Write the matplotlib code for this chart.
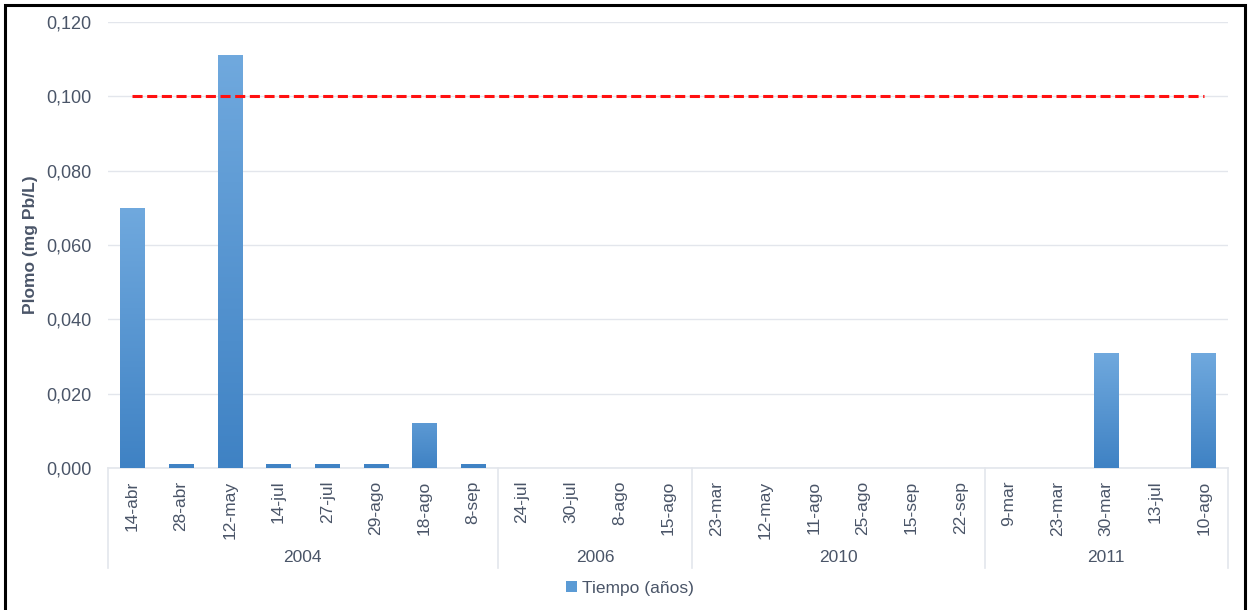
import numpy as np
import matplotlib.pyplot as plt
from matplotlib.patches import Rectangle
from matplotlib.colors import LinearSegmentedColormap

plt.rcParams['font.family'] = ['Liberation Sans', 'DejaVu Sans']

# datos
years = ['2004', '2006', '2010', '2011']
fechas = [
    ['14-abr', '28-abr', '12-may', '14-jul', '27-jul', '29-ago', '18-ago', '8-sep'],
    ['24-jul', '30-jul', '8-ago', '15-ago'],
    ['23-mar', '12-may', '11-ago', '25-ago', '15-sep', '22-sep'],
    ['9-mar', '23-mar', '30-mar', '13-jul', '10-ago'],
]
plomo = [
    0.070, 0.001, 0.111, 0.001, 0.001, 0.001, 0.012, 0.001,
    0.0, 0.0, 0.0, 0.0,
    0.0, 0.0, 0.0, 0.0, 0.0, 0.0,
    0.0, 0.0, 0.031, 0.0, 0.031,
]
limite = 0.100

labels = [f for grupo in fechas for f in grupo]
x = np.arange(len(labels))

text_color = '#4a5568'
grid_color = '#e3e6ec'

fig = plt.figure(figsize=(12.52, 6.1), dpi=100)
ax = fig.add_axes([108 / 1252, 1 - 468 / 610, 1120 / 1252, 446 / 610])

bars = ax.bar(x, plomo, width=0.5, color='#5b9bd5', label='Tiempo (años)', zorder=2)

# degradado en cada barra
cmap = LinearSegmentedColormap.from_list('g', ['#3f82c4', '#70a9de'])
grad = np.linspace(0, 1, 256).reshape(-1, 1)
for b in bars:
    h = b.get_height()
    if h <= 0:
        continue
    bx, bw = b.get_x(), b.get_width()
    im = ax.imshow(grad, cmap=cmap, aspect='auto', origin='lower',
                   extent=(bx, bx + bw, 0, max(h, 0.02)), zorder=3)
    im.set_clip_path(b)

# línea límite
ax.plot([x[0], x[-1]], [limite, limite], color='#ff1010', lw=2.2,
        linestyle=(0, (3.3, 1.5)), zorder=4)

ax.set_xlim(-0.5, len(labels) - 0.5)
ax.set_ylim(0, 0.12)
ax.set_yticks(np.arange(0, 0.121, 0.02))
ax.set_yticklabels([f'{v:.3f}'.replace('.', ',') for v in np.arange(0, 0.121, 0.02)],
                   fontsize=13, color=text_color)
ax.yaxis.grid(True, color=grid_color, lw=1)
ax.set_axisbelow(True)
ax.tick_params(axis='y', length=0, pad=12)

ax.set_xticks(x)
ax.set_xticklabels(labels, rotation=90, fontsize=12.5, color=text_color)
ax.tick_params(axis='x', length=0, pad=9)

for s in ['top', 'right', 'left']:
    ax.spines[s].set_visible(False)
ax.spines['bottom'].set_color(grid_color)
ax.spines['bottom'].set_linewidth(1.2)

ax.set_ylabel('Plomo (mg Pb/L)', fontsize=12.5, fontweight='bold', color=text_color)
ax.yaxis.set_label_coords(-70 / 1120, 0.5)

# separadores de grupos y años
trans = ax.get_xaxis_transform()
bordes = [-0.5]
for g in fechas:
    bordes.append(bordes[-1] + len(g))
for b in bordes:
    ax.plot([b, b], [0, -0.225], color=grid_color, lw=1.2, transform=trans, clip_on=False)
for i, yr in enumerate(years):
    centro = (bordes[i] + bordes[i + 1]) / 2
    ax.text(centro, -0.2, yr, transform=trans, ha='center', va='center',
            fontsize=12.5, color=text_color)

fig.legend(handles=[bars], labels=['Tiempo (años)'], loc='center',
           bbox_to_anchor=(630 / 1252, 1 - 588 / 610), frameon=False,
           fontsize=12.5, labelcolor=text_color, handlelength=0.6,
           handleheight=0.6, handletextpad=0.3)

# marco negro
fig.patches.append(Rectangle((5 / 1252, -0.05), 1240 / 1252, 1.05 - 5 / 610,
                             transform=fig.transFigure, fill=False,
                             edgecolor='black', lw=2.2))

fig.savefig('out.png', dpi=100)
